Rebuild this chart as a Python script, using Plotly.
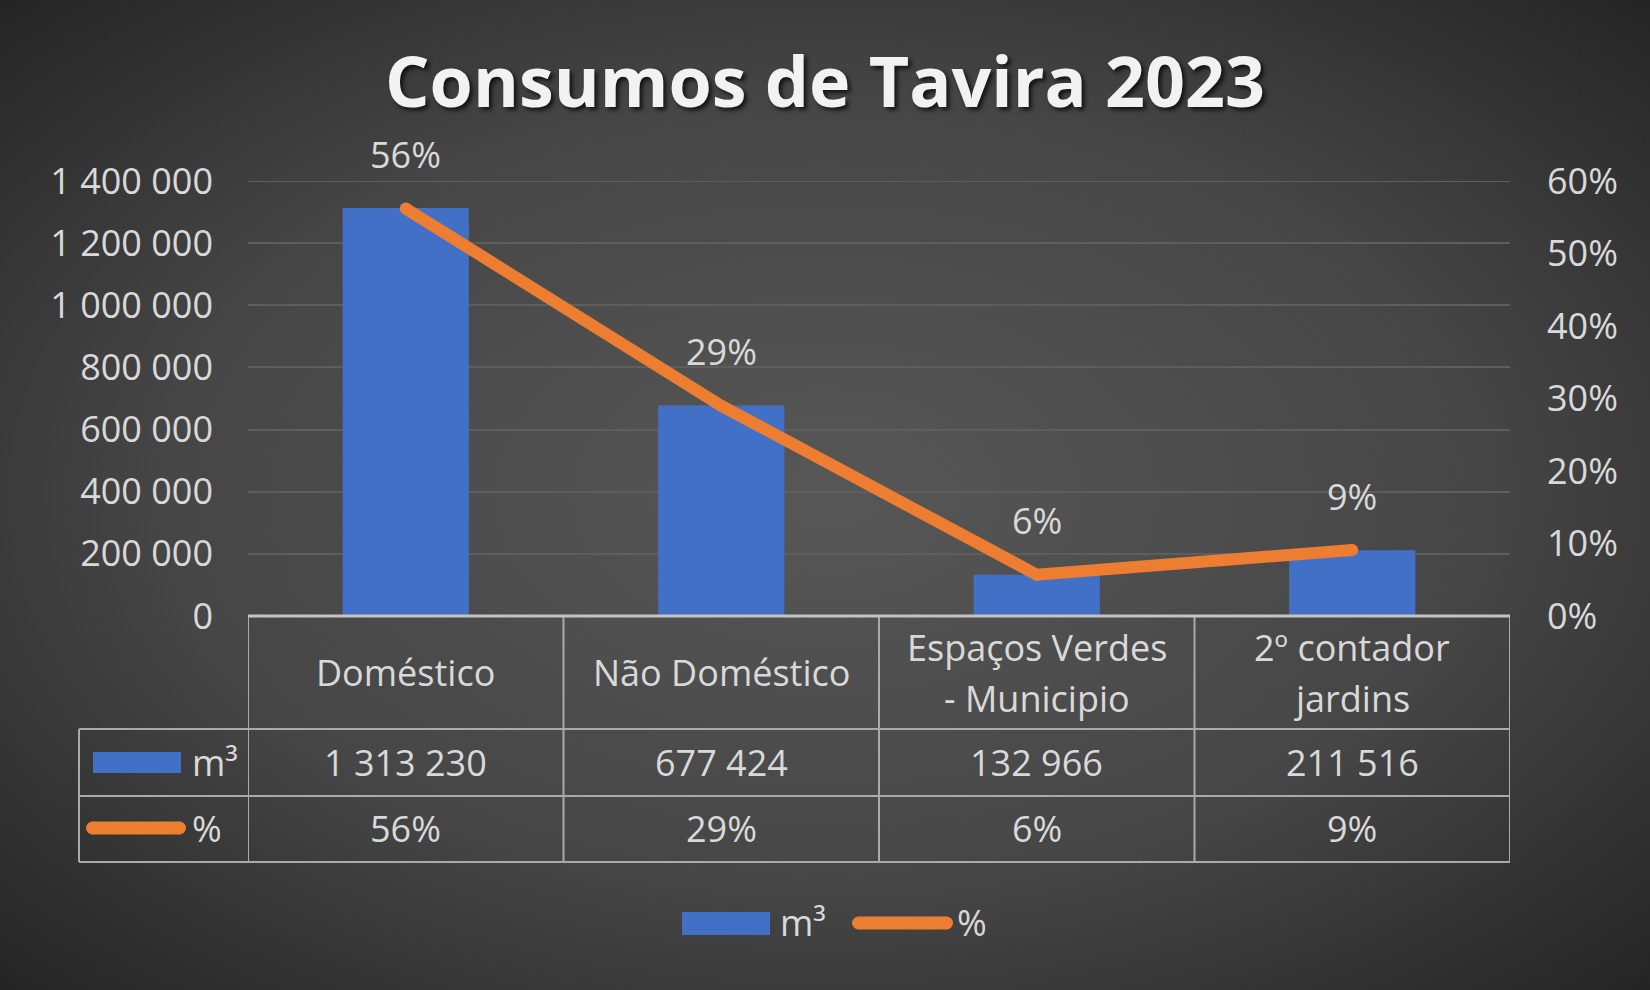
import base64
import plotly.graph_objects as go

# ---------------- data ----------------
categories = ["Doméstico", "Não Doméstico", "Espaços Verdes - Municipio", "2º contador jardins"]
header_lines = [["Doméstico"], ["Não Doméstico"], ["Espaços Verdes", "- Municipio"], ["2º contador", "jardins"]]
volumes_m3 = [1313230, 677424, 132966, 211516]
shares = [0.562, 0.290, 0.057, 0.091]
share_labels = ["56%", "29%", "6%", "9%"]
left_ticks = [0, 200000, 400000, 600000, 800000, 1000000, 1200000, 1400000]
right_ticks = [0, 0.1, 0.2, 0.3, 0.4, 0.5, 0.6]
series_names = ["m³", "%"]

# ---------------- style ----------------
W_FIG, H_FIG = 1650, 990
L, R, T, B = 248, 1510, 181, 616
PW, PH = R - L, B - T
FONT = "Open Sans"
TXT = "#d9d9d9"
BLUE = "#4270c6"
ORANGE = "#ed7d31"
GRID = "#5e5e5e"
TABLE = "#aaaaaa"
FS = 36


def px(xp):
    return (xp - L) / PW


def py(yp):
    return (B - yp) / PH


xs = list(range(len(categories)))

fig = go.Figure()
fig.add_trace(go.Bar(
    x=xs, y=volumes_m3, name=series_names[0], width=0.4,
    marker=dict(color=BLUE, line=dict(width=0)), yaxis="y",
    hoverinfo="skip",
))
fig.add_trace(go.Scatter(
    x=xs, y=shares, name=series_names[1], mode="lines+markers", yaxis="y2",
    line=dict(color=ORANGE, width=12),
    marker=dict(color=ORANGE, size=12, line=dict(width=0)),
    hoverinfo="skip",
))

annotations = []
shapes = []

# top gridline (at the range end, not drawn by plotly)
shapes.append(dict(type="line", xref="paper", yref="y", x0=0, x1=1,
                   y0=left_ticks[-1], y1=left_ticks[-1], line=dict(color=GRID, width=2),
                   layer="below"))

# data labels above the line points
for x, s, lab in zip(xs, shares, share_labels):
    annotations.append(dict(x=x, y=s, xref="x", yref="y2", text=lab, showarrow=False,
                            yshift=54, font=dict(family=FONT, size=FS, color=TXT)))

# ---------------- data table ----------------
row_header_bottom = 729
row1_bottom = 796
row2_bottom = 862
left_col = 79
line_style = dict(color=TABLE, width=2)

for yy in [row_header_bottom, row1_bottom, row2_bottom]:
    shapes.append(dict(type="line", xref="paper", yref="paper",
                       x0=px(left_col), x1=px(R), y0=py(yy), y1=py(yy), line=line_style))
for i in range(len(categories) + 1):
    shapes.append(dict(type="line", xref="x", yref="paper",
                       x0=i - 0.5, x1=i - 0.5, y0=py(B), y1=py(row2_bottom), line=line_style))
shapes.append(dict(type="line", xref="paper", yref="paper",
                   x0=px(left_col), x1=px(left_col), y0=py(row_header_bottom), y1=py(row2_bottom),
                   line=line_style))
shapes.append(dict(type="line", xref="paper", yref="paper",
                   x0=0, x1=1, y0=0, y1=0, line=dict(color="#c4c4c4", width=3)))

for x, lines in zip(xs, header_lines):
    centers = [672] if len(lines) == 1 else [647, 698]
    for txt, yc in zip(lines, centers):
        annotations.append(dict(x=x, y=py(yc), xref="x", yref="paper", text=txt, showarrow=False,
                                yanchor="middle", font=dict(family=FONT, size=FS, color=TXT)))
for x, v, lab in zip(xs, volumes_m3, share_labels):
    annotations.append(dict(x=x, y=py(762), xref="x", yref="paper",
                            text=f"{v:,}".replace(",", " "), showarrow=False, yanchor="middle",
                            font=dict(family=FONT, size=FS, color=TXT)))
    annotations.append(dict(x=x, y=py(829), xref="x", yref="paper", text=lab, showarrow=False,
                            yanchor="middle", font=dict(family=FONT, size=FS, color=TXT)))


def blue_key(x0, x1, y0, y1):
    shapes.append(dict(type="rect", xref="paper", yref="paper", x0=px(x0), x1=px(x1),
                       y0=py(y1), y1=py(y0), fillcolor=BLUE, line=dict(width=0)))


def orange_key(x0, x1, yc, th=13):
    r = th / 2
    shapes.append(dict(type="line", xref="paper", yref="paper", x0=px(x0 + r), x1=px(x1 - r),
                       y0=py(yc), y1=py(yc), line=dict(color=ORANGE, width=th)))
    for cx in (x0 + r, x1 - r):
        shapes.append(dict(type="circle", xref="paper", yref="paper",
                           x0=px(cx - r), x1=px(cx + r), y0=py(yc + r), y1=py(yc - r),
                           fillcolor=ORANGE, line=dict(width=0)))


blue_key(93, 181, 752, 773)
orange_key(86, 186, 828)
annotations.append(dict(x=px(190), y=py(762), xref="paper", yref="paper", text=series_names[0],
                        showarrow=False, xanchor="left", yanchor="middle",
                        font=dict(family=FONT, size=FS, color=TXT)))
annotations.append(dict(x=px(190), y=py(828), xref="paper", yref="paper", text=series_names[1],
                        showarrow=False, xanchor="left", yanchor="middle",
                        font=dict(family=FONT, size=FS, color=TXT)))

blue_key(682, 770, 912, 935)
annotations.append(dict(x=px(778), y=py(922), xref="paper", yref="paper", text=series_names[0],
                        showarrow=False, xanchor="left", yanchor="middle",
                        font=dict(family=FONT, size=FS, color=TXT)))
orange_key(852, 953, 923)
annotations.append(dict(x=px(955), y=py(922), xref="paper", yref="paper", text=series_names[1],
                        showarrow=False, xanchor="left", yanchor="middle",
                        font=dict(family=FONT, size=FS, color=TXT)))

svg = f"""<svg xmlns='http://www.w3.org/2000/svg' width='{W_FIG}' height='{H_FIG}'>
<defs><radialGradient id='g' cx='50%' cy='50%' r='72%'>
<stop offset='0%' stop-color='#575757'/><stop offset='55%' stop-color='#464646'/>
<stop offset='100%' stop-color='#232323'/></radialGradient></defs>
<rect width='100%' height='100%' fill='url(#g)'/></svg>"""
bg_uri = "data:image/svg+xml;base64," + base64.b64encode(svg.encode()).decode()

fig.update_layout(
    width=W_FIG, height=H_FIG,
    margin=dict(l=L, r=W_FIG - R, t=T, b=H_FIG - B, pad=0),
    paper_bgcolor="#3c3c3c", plot_bgcolor="rgba(0,0,0,0)",
    separators=", ",
    showlegend=False,
    title=dict(text="Consumos de Tavira 2023", x=0.5, xref="container", xanchor="center",
               y=1 - 82 / H_FIG, yref="container", yanchor="middle",
               font=dict(family=FONT, size=70, color="#f2f2f2", weight="bold",
                         shadow="3px 3px 4px rgba(0,0,0,0.7)")),
    xaxis=dict(range=[-0.5, 3.5], showticklabels=False, showgrid=False, zeroline=False,
               showline=False, ticks="", fixedrange=True),
    yaxis=dict(range=[0, 1400000], tickvals=left_ticks, tickformat=",d", showgrid=True,
               gridcolor=GRID, gridwidth=2, zeroline=False, showline=False, ticks="",
               ticklabelstandoff=34, tickfont=dict(family=FONT, size=FS, color=TXT)),
    yaxis2=dict(range=[0, 0.6], tickvals=right_ticks, tickformat=".0%", overlaying="y",
                side="right", showgrid=False, zeroline=False, showline=False, ticks="",
                ticklabelstandoff=36, tickfont=dict(family=FONT, size=FS, color=TXT)),
    shapes=shapes,
    annotations=annotations,
    images=[dict(source=bg_uri, xref="paper", yref="paper", x=-L / PW, y=1 + T / PH,
                 sizex=W_FIG / PW, sizey=H_FIG / PH, xanchor="left", yanchor="top",
                 sizing="stretch", layer="below")],
)

fig.write_html("out.html")
